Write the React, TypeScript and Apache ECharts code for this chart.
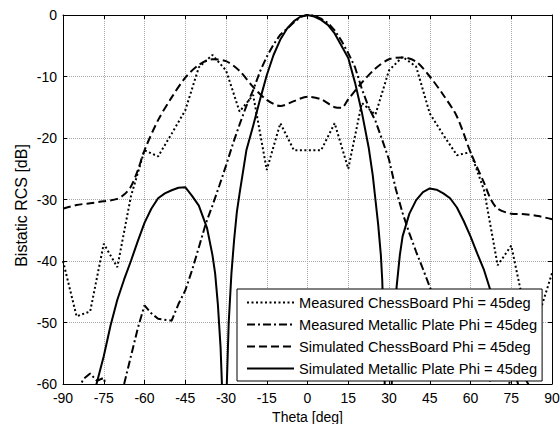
import React, { useEffect, useRef } from "react";
import * as echarts from "echarts";

const seriesNames = [
  "Measured ChessBoard Phi = 45deg",
  "Measured Metallic Plate Phi = 45deg",
  "Simulated ChessBoard Phi = 45deg",
  "Simulated Metallic Plate Phi = 45deg",
];

// Measured ChessBoard (dotted)
const mcbTheta = [-90, -85, -80, -75, -70, -65, -60, -55, -50, -45, -40, -35, -30, -25, -20, -15, -10, -5, 0, 5, 10, 15, 20, 25, 30, 35, 40, 45, 50, 55, 60, 65, 70, 75, 80, 85, 90];
const mcbValues = [-40, -49, -48.2, -37.2, -41, -29.5, -22, -23, -19.3, -15.5, -8.5, -6.5, -9, -15.7, -13, -25.2, -17.6, -22, -22, -22, -17.6, -25, -14.3, -16.2, -9, -6.8, -8.4, -16, -19.5, -22.8, -22.3, -28.5, -40.7, -37.5, -48, -49, -42];

// Measured Metallic Plate (dash-dot)
const mmpTheta = [-90, -87, -85, -82.5, -80, -77.5, -75, -72.5, -70, -67.5, -65, -62.5, -60, -57.5, -55, -50, -47.5, -45, -42.5, -40, -37.5, -35, -32.5, -30, -27.5, -25, -22.5, -20, -17.5, -15, -12.5, -10, -7.5, -5, -2.5, 0, 2.5, 5, 7.5, 10, 12.5, 15, 17.5, 20, 22.5, 25, 27.5, 30, 32.5, 35, 37.5, 40, 42.5, 45, 47.5, 50, 55, 60, 62.5, 65, 67.5, 70, 72.5, 75, 77.5, 80, 82.5, 85, 90];
const mmpValues = [-66, -64, -61.5, -59.2, -58.3, -59.5, -59, -63, -65, -60, -55.5, -51, -47.2, -48.5, -49.4, -49.7, -47, -44.8, -41.5, -37.8, -34, -31, -27.8, -24.5, -21, -17.8, -14.8, -12.2, -9.2, -6.8, -4.8, -3.2, -2.2, -1.2, -0.3, 0, -0.1, -0.6, -1.3, -2.5, -4.2, -6.2, -8.5, -12, -15, -17.2, -20.3, -23.5, -28.3, -32.2, -35.5, -38.5, -41.3, -44.2, -47, -49, -49.5, -47.5, -51, -55.5, -60, -65, -62, -59, -58.5, -59, -61, -63, -66];

// Simulated ChessBoard (dashed)
const scbTheta = [-90, -85, -80, -75, -70, -67.5, -65, -62.5, -60, -55, -50, -45, -40, -35, -30, -25, -20, -15, -10, -5, 0, 5, 10, 12.5, 15, 20, 25, 30, 35, 40, 45, 50, 55, 60, 65, 67.5, 70, 75, 80, 85, 90];
const scbValues = [-31.5, -30.9, -30.6, -30.3, -29.9, -29.2, -27.9, -25.3, -22, -17.1, -13.4, -10.2, -8.1, -7.2, -7.5, -9.1, -11.7, -13.8, -14.8, -14, -13.3, -13.7, -15, -15.1, -13.7, -11, -8.7, -7.2, -6.9, -7.6, -10, -13, -16.5, -22.3, -27.3, -30, -31.5, -32.3, -32.4, -32.7, -33.2];

// Simulated Metallic Plate (solid)
const smpTheta = [-90, -85, -80, -77.5, -75, -72.5, -70, -67.5, -65, -62.5, -60, -57.5, -55, -52.5, -50, -47.5, -45, -42.5, -40, -37, -35, -34, -33, -32, -31.5, -31, -30.5, -30.2, -29.7, -29, -28, -27, -26, -25, -22.5, -20, -17.5, -15, -12.5, -10, -7.5, -5, -2.5, 0, 2.5, 5, 7.5, 10, 12.5, 15, 17.5, 20, 22.5, 24, 25, 26, 27, 27.5, 28, 28.5, 29.5, 30.5, 31, 32, 32.8, 34, 35, 37.5, 40, 42.5, 45, 47.5, 50, 52.5, 55, 57.5, 60, 62.5, 65, 67.5, 70, 72.5, 75, 77.5, 80, 85, 90];
const smpValues = [-80, -70, -64, -59.7, -55.5, -50.5, -46.3, -43, -40, -36.8, -33.8, -31.5, -29.8, -29, -28.5, -28.1, -28, -29.4, -31, -34.6, -39, -42, -47, -54, -60, -68, -80, -75, -60, -50, -42, -36.5, -32, -29, -22, -18, -13.8, -9.8, -6.5, -4, -2.2, -1, -0.25, 0, -0.25, -0.8, -1.6, -3, -5, -7, -11, -15.8, -21.5, -26, -30, -34, -39, -43, -50, -62, -80, -68, -60, -51, -44.2, -39, -36, -32.3, -30.1, -28.8, -28.2, -28.4, -29, -29.8, -31.3, -33.5, -36, -38.8, -41.5, -45, -48.5, -52, -56, -60, -64, -70, -80];

const xMin = -90;
const xMax = 90;
const xStep = 15;
const yMin = -60;
const yMax = 0;
const yStep = 10;

const FONT = "'Liberation Sans', Arial, Helvetica, sans-serif";

function pairs(t: number[], v: number[]) {
  return t.map((x, i) => [x, v[i]]);
}

export default function App() {
  const ref = useRef<HTMLDivElement>(null);
  useEffect(() => {
    if (!ref.current) return;
    const chart = echarts.init(ref.current, null, { renderer: "svg" });
    const axisCommon = {
      axisLine: { show: true, onZero: false, lineStyle: { color: "#000", width: 1 } },
      axisTick: { show: true, inside: true, length: 4, lineStyle: { color: "#000" } },
    };
    chart.setOption({
      animation: false,
      backgroundColor: "#fff",
      textStyle: { fontFamily: FONT },
      grid: { left: 63, right: 8, top: 15, bottom: 40, containLabel: false, outerBoundsMode: "none" },
      legend: {
        orient: "vertical",
        left: 237,
        top: 289,
        data: seriesNames,
        backgroundColor: "#fff",
        borderColor: "#000",
        borderWidth: 1,
        borderRadius: 0,
        padding: [6, 5, 5, 9],
        itemWidth: 47,
        itemHeight: 14,
        itemGap: 7,
        z: 10,
        selectedMode: false,
        itemStyle: { opacity: 0 },
        textStyle: { fontFamily: FONT, fontSize: 14.6, color: "#000" },
      },
      xAxis: [
        {
          type: "value",
          min: xMin,
          max: xMax,
          interval: xStep,
          name: "Theta [deg]",
          nameLocation: "middle",
          nameGap: 26,
          nameMoveOverlap: false,
          nameTextStyle: { fontFamily: FONT, fontSize: 14, color: "#000" },
          ...axisCommon,
          axisLabel: { fontFamily: FONT, fontSize: 14, color: "#000", margin: 7 },
          splitLine: { show: true, lineStyle: { color: "#a8a8a8", type: "dotted", width: 1 } },
        },
        {
          type: "value",
          position: "top",
          min: xMin,
          max: xMax,
          interval: xStep,
          ...axisCommon,
          axisLabel: { show: false },
          splitLine: { show: false },
        },
      ],
      yAxis: [
        {
          type: "value",
          min: yMin,
          max: yMax,
          interval: yStep,
          name: "Bistatic RCS [dB]",
          nameLocation: "middle",
          nameGap: 34,
          nameMoveOverlap: false,
          nameRotate: 90,
          nameTextStyle: { fontFamily: FONT, fontSize: 16, color: "#000", padding: [0, 12, 0, 0] },
          ...axisCommon,
          axisLabel: { fontFamily: FONT, fontSize: 14, color: "#000", margin: 6 },
          splitLine: { show: true, lineStyle: { color: "#a8a8a8", type: "dotted", width: 1 } },
        },
        {
          type: "value",
          position: "right",
          min: yMin,
          max: yMax,
          interval: yStep,
          ...axisCommon,
          axisLabel: { show: false },
          splitLine: { show: false },
        },
      ],
      series: [
        {
          name: seriesNames[0],
          type: "line",
          data: pairs(mcbTheta, mcbValues),
          symbol: "none",
          clip: true,
          lineStyle: { color: "#000", width: 2, type: [2, 2.5] },
          itemStyle: { color: "#000" },
        },
        {
          name: seriesNames[1],
          type: "line",
          data: pairs(mmpTheta, mmpValues),
          symbol: "none",
          clip: true,
          lineStyle: { color: "#000", width: 2, type: [8, 3, 2, 3] },
          itemStyle: { color: "#000" },
        },
        {
          name: seriesNames[2],
          type: "line",
          data: pairs(scbTheta, scbValues),
          symbol: "none",
          smooth: 0.3,
          clip: true,
          lineStyle: { color: "#000", width: 2, type: [8, 4] },
          itemStyle: { color: "#000" },
        },
        {
          name: seriesNames[3],
          type: "line",
          data: pairs(smpTheta, smpValues),
          symbol: "none",
          clip: true,
          lineStyle: { color: "#000", width: 2, type: "solid" },
          itemStyle: { color: "#000" },
        },
      ],
    });
    return () => chart.dispose();
  }, []);
  return (
    <div
      ref={ref}
      style={{ position: "fixed", left: 0, top: 0, width: 560, height: 424, background: "#fff" }}
    />
  );
}
